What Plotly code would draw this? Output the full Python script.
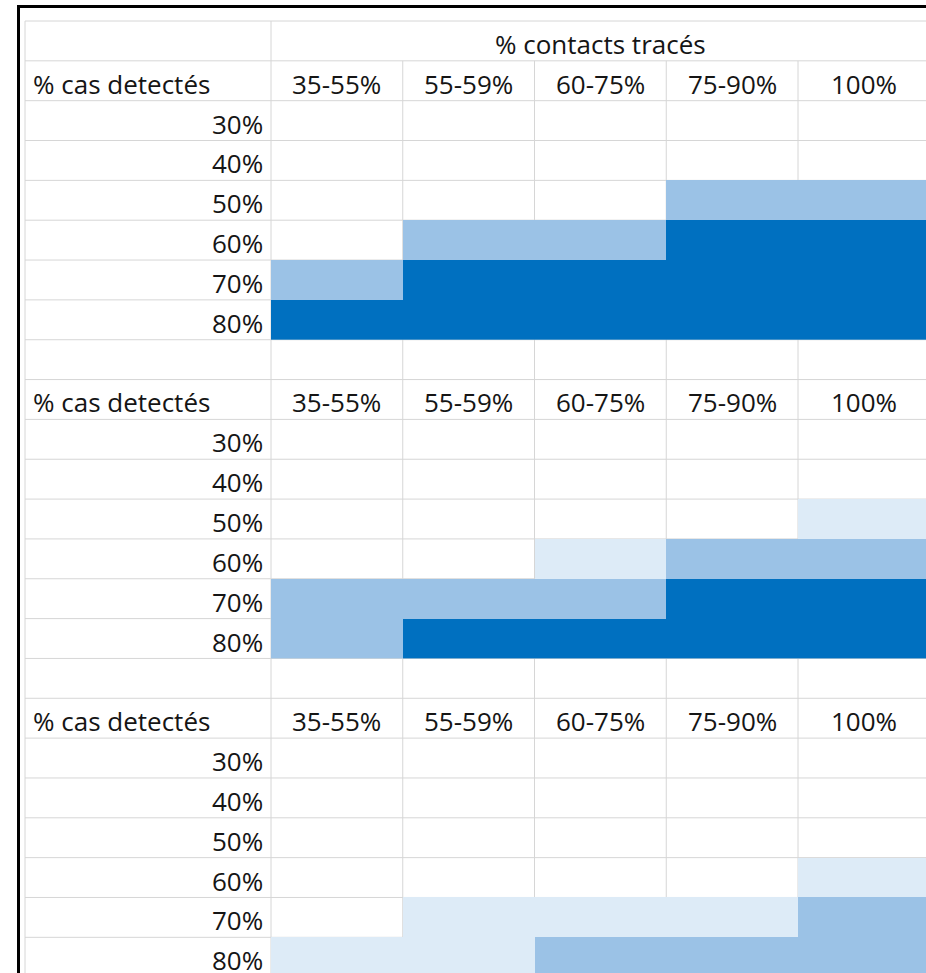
import plotly.graph_objects as go

# Table content
col_title = "% contacts tracés"
row_header = "% cas detectés"
contact_bins = ["35-55%", "55-59%", "60-75%", "75-90%", "100%"]
detect_levels = ["30%", "40%", "50%", "60%", "70%", "80%"]

# Shading level per cell (0 = no fill, 1 = light, 2 = medium, 3 = dark),
# rows follow detect_levels, columns follow contact_bins.
scenario_a = [
    [0, 0, 0, 0, 0],
    [0, 0, 0, 0, 0],
    [0, 0, 0, 2, 2],
    [0, 2, 2, 3, 3],
    [2, 3, 3, 3, 3],
    [3, 3, 3, 3, 3],
]
scenario_b = [
    [0, 0, 0, 0, 0],
    [0, 0, 0, 0, 0],
    [0, 0, 0, 0, 1],
    [0, 0, 1, 2, 2],
    [2, 2, 2, 3, 3],
    [2, 3, 3, 3, 3],
]
scenario_c = [
    [0, 0, 0, 0, 0],
    [0, 0, 0, 0, 0],
    [0, 0, 0, 0, 0],
    [0, 0, 0, 0, 1],
    [0, 1, 1, 1, 2],
    [1, 1, 2, 2, 2],
]
scenarios = [scenario_a, scenario_b, scenario_c]

# ---- styling / layout -------------------------------------------------
W, H = 926, 973
COL_PX = 131.75          # width of one data column in pixels
DATA_X0_PX = 271         # left edge of first data column
ROW_PX = 39.84           # row height in pixels
TOP_PX = 21              # top of the first grid row
LABEL_LEFT_PX = 25       # left edge of the label column

LIGHT, MEDIUM, DARK = "#DDEBF7", "#9BC2E6", "#0070C0"
GRID = "#D6D6D6"
TEXT = "#151515"
FONT = "Open Sans"
FS = 26


def ux(px):
    return (px - DATA_X0_PX) / COL_PX


label_left = ux(LABEL_LEFT_PX)
n_cols = len(contact_bins)
block_rows = len(detect_levels) + 2   # header row + data rows + spacer row
n_rows_total = 1 + block_rows * len(scenarios) + 2

fig = go.Figure()

colorscale = [
    [0.0, LIGHT], [0.25, LIGHT],
    [0.25, MEDIUM], [0.75, MEDIUM],
    [0.75, DARK], [1.0, DARK],
]

annotations = []

def add_text(x, y, text, anchor):
    annotations.append(dict(
        x=x, y=y, xref="x", yref="y", text=text, showarrow=False,
        xanchor=anchor, yanchor="middle", yshift=-3,
        font=dict(family=FONT, size=FS, color=TEXT),
    ))

# merged title cell over all data columns
add_text(n_cols / 2, 0.5, col_title, "center")

for b, grid in enumerate(scenarios):
    top = 1 + block_rows * b
    add_text(ux(31), top + 0.5, row_header, "left")
    for j, lab in enumerate(contact_bins):
        add_text(j + 0.5, top + 0.5, lab, "center")
    ys = []
    for i, lab in enumerate(detect_levels):
        yc = top + 1 + i + 0.5
        ys.append(yc)
        add_text(ux(265), yc, lab, "right")
    z = [[v if v > 0 else None for v in row] for row in grid]
    fig.add_trace(go.Heatmap(
        x=[j + 0.5 for j in range(n_cols)], y=ys, z=z,
        zmin=1, zmax=3, colorscale=colorscale, showscale=False,
        hoverinfo="skip", xgap=0, ygap=0,
    ))

shapes = []
# horizontal cell borders
for r in range(n_rows_total + 1):
    shapes.append(dict(type="line", xref="x", yref="y", layer="below",
                       x0=label_left, x1=n_cols + 0.5, y0=r, y1=r,
                       line=dict(color=GRID, width=1)))
# vertical cell borders (inner data borders stop below the merged title row)
for xv in [label_left, 0]:
    shapes.append(dict(type="line", xref="x", yref="y", layer="below",
                       x0=xv, x1=xv, y0=0, y1=n_rows_total,
                       line=dict(color=GRID, width=1)))
for xv in range(1, n_cols):
    shapes.append(dict(type="line", xref="x", yref="y", layer="below",
                       x0=xv, x1=xv, y0=1, y1=n_rows_total,
                       line=dict(color=GRID, width=1)))
# black frame on top and left edges
shapes.append(dict(type="line", xref="paper", yref="paper", layer="above",
                   x0=17 / W, x1=1.01, y0=1 - 6.5 / H, y1=1 - 6.5 / H,
                   line=dict(color="black", width=3)))
shapes.append(dict(type="line", xref="paper", yref="paper", layer="above",
                   x0=18.5 / W, x1=18.5 / W, y0=-0.01, y1=1 - 5 / H,
                   line=dict(color="black", width=3)))

fig.update_layout(
    width=W, height=H,
    margin=dict(l=0, r=0, t=0, b=0),
    paper_bgcolor="white", plot_bgcolor="white",
    showlegend=False,
    xaxis=dict(range=[ux(0), ux(W)], visible=False, showgrid=False,
               zeroline=False, fixedrange=True),
    yaxis=dict(range=[(H - TOP_PX) / ROW_PX, -TOP_PX / ROW_PX], visible=False,
               showgrid=False, zeroline=False, fixedrange=True),
    shapes=shapes,
    annotations=annotations,
)

fig.write_html("out.html", config={"displayModeBar": False})
